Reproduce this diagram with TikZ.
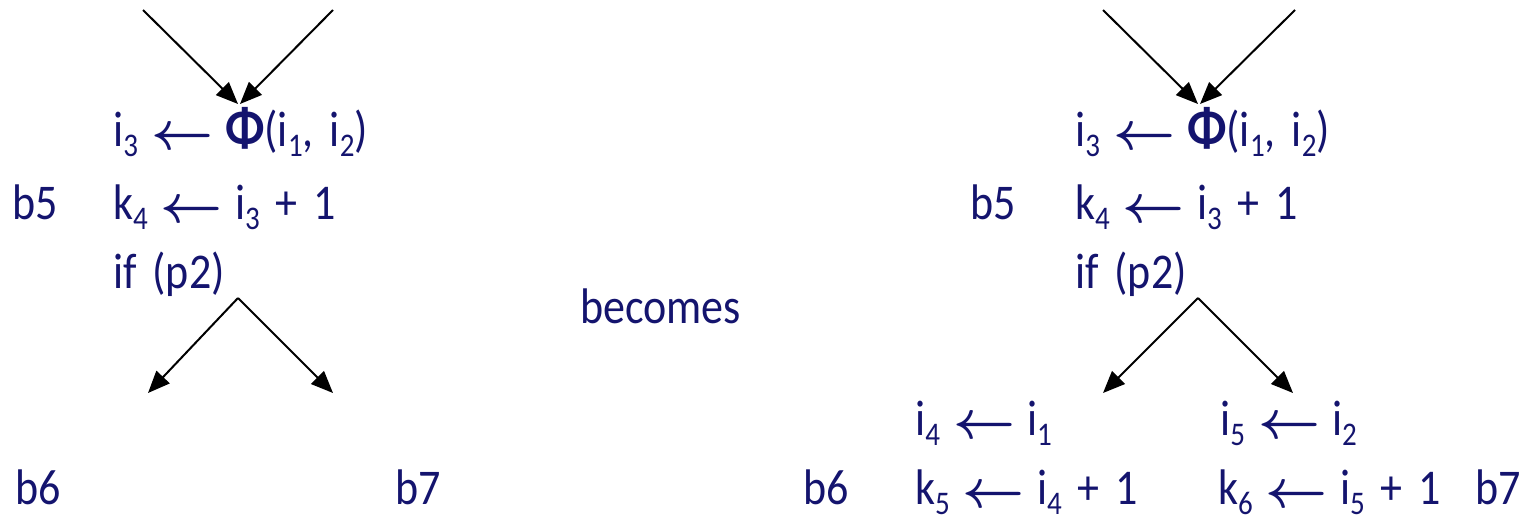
\documentclass[tikz,border=0pt]{standalone}
\usepackage{graphicx}
\usepackage{fontspec}
\setmainfont[FakeStretch=0.88,WordSpace={1.6}]{Carlito}
\usetikzlibrary{arrows.meta}
\definecolor{ink}{RGB}{20,20,110}
\newcommand\sbs[1]{\raisebox{-0.2em}{\fontsize{33}{33}\selectfont #1}}
\newcommand\lar{\hspace{13pt}\raisebox{-3pt}{\fontsize{10}{10}\selectfont\scalebox{5.4}{\boldmath$\leftarrow$}}\hspace{12pt}}
\newcommand\bigphi{{\fontsize{56}{56}\selectfont\bfseries Φ}}
\begin{document}
\begin{tikzpicture}[x=1pt,y=-1pt,
  txt/.style={anchor=base west,inner sep=0pt,text=ink,font=\fontsize{50}{50}\selectfont},
  flow/.style={draw=black,line width=2pt,-{Triangle[length=22pt,width=18pt]}}]
\useasboundingbox (0,0) rectangle (1533,520);
% left
\node[txt] (l1) at (113,146) {i\sbs{3}\lar\bigphi(i\sbs{1}, i\sbs{2})};
\node[txt] (lb5) at (12,219) {b5};
\node[txt] (l2) at (113,219) {k\sbs{4}\lar i\sbs{3} + 1};
\node[txt] (l3) at (113,288) {if (p2)};
\node[txt] (lb6) at (15,504) {b6};
\node[txt] (lb7) at (395,504) {b7};
\node[txt] (bec) at (580,323) {becomes};
\coordinate (la) at (143,10);
\coordinate (lb) at (333,10);
\coordinate (lt1) at (238,104);
\coordinate (lt2) at (240,104);
\coordinate (lapex) at (238,298);
\coordinate (lc) at (148,393);
\coordinate (ld) at (333,393);
\draw[flow] (la) -- (lt1);
\draw[flow] (lb) -- (lt2);
\draw[flow] (lapex) -- (lc);
\draw[flow] (lapex) -- (ld);
% right
\node[txt] (r1) at (1075,146) {i\sbs{3}\lar\bigphi(i\sbs{1}, i\sbs{2})};
\node[txt] (rb5) at (970,219) {b5};
\node[txt] (r2) at (1075,219) {k\sbs{4}\lar i\sbs{3} + 1};
\node[txt] (r3) at (1075,288) {if (p2)};
\node[txt] (r4) at (915,435) {i\sbs{4}\lar i\sbs{1}};
\node[txt] (r5) at (1220,435) {i\sbs{5}\lar i\sbs{2}};
\node[txt] (rb6) at (803,504) {b6};
\node[txt] (r6) at (915,504) {k\sbs{5}\lar i\sbs{4} + 1};
\node[txt] (r7) at (1218,504) {k\sbs{6}\lar i\sbs{5} + 1};
\node[txt] (rb7) at (1475,504) {b7};
\coordinate (ra) at (1103,10);
\coordinate (rb) at (1295,10);
\coordinate (rt1) at (1198,104);
\coordinate (rt2) at (1200,104);
\coordinate (rapex) at (1198,298);
\coordinate (rc) at (1103,393);
\coordinate (rd) at (1293,393);
\draw[flow] (ra) -- (rt1);
\draw[flow] (rb) -- (rt2);
\draw[flow] (rapex) -- (rc);
\draw[flow] (rapex) -- (rd);
\end{tikzpicture}
\end{document}
